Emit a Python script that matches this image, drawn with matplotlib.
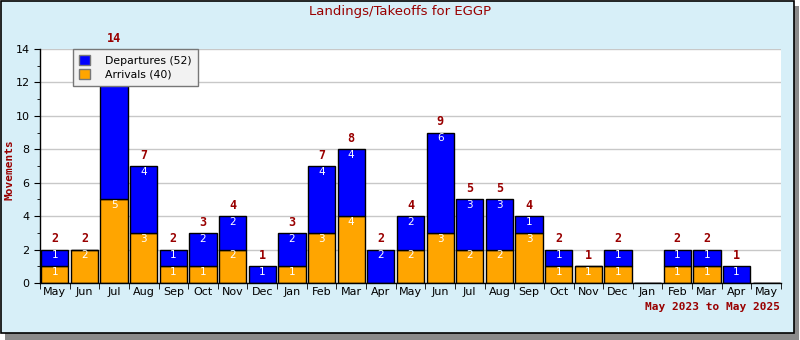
import matplotlib
matplotlib.use("Agg")
import numpy as np
from matplotlib import pyplot as plt
from matplotlib.patches import Patch, Rectangle

months = ["May", "Jun", "Jul", "Aug", "Sep", "Oct", "Nov", "Dec", "Jan", "Feb", "Mar", "Apr",
          "May", "Jun", "Jul", "Aug", "Sep", "Oct", "Nov", "Dec", "Jan", "Feb", "Mar", "Apr", "May"]
arrivals = [1, 2, 5, 3, 1, 1, 2, 0, 1, 3, 4, 0, 2, 3, 2, 2, 3, 1, 1, 1, 0, 1, 1, 0, 0]
departures = [1, 0, 9, 4, 1, 2, 2, 1, 2, 4, 4, 2, 2, 6, 3, 3, 1, 1, 0, 1, 0, 1, 1, 1, 0]

bg = "#d7eff8"
red = "#990000"
blue = "#0000ff"
orange = "#ffa500"

fig = plt.figure(figsize=(8, 3.4), dpi=100)
fig.patch.set_facecolor("white")
# shadow + framed panel
fig.patches.append(Rectangle((5 / 800, 0), 794 / 800, 334 / 340, transform=fig.transFigure,
                             facecolor="#8a8a8a", edgecolor="none", zorder=-3))
fig.patches.append(Rectangle((1 / 800, 7 / 340), 793 / 800, 332 / 340, transform=fig.transFigure,
                             facecolor=bg, edgecolor="black", linewidth=1.2, zorder=-2))

ax = fig.add_axes([40 / 800, 57 / 340, 741 / 800, 234 / 340])
ax.set_facecolor("white")

x = np.arange(len(months))
arr = np.array(arrivals)
dep = np.array(departures)
tot = arr + dep

ax.bar(x, arr, width=0.92, color=orange, edgecolor="black", linewidth=1, zorder=2)
ax.bar(x, dep, bottom=arr, width=0.92, color=blue, edgecolor="black", linewidth=1, zorder=2)

for i in range(len(months)):
    if arr[i] > 0:
        ax.annotate(str(arr[i]), (x[i], arr[i]), xytext=(0, -0.5), textcoords="offset points",
                    ha="center", va="top", color="white", fontsize=7.5, zorder=3)
    if dep[i] > 0:
        ax.annotate(str(dep[i]), (x[i], tot[i]), xytext=(0, -0.5), textcoords="offset points",
                    ha="center", va="top", color="white", fontsize=7.5, zorder=3)
    if tot[i] > 0:
        ax.annotate(str(tot[i]), (x[i], tot[i]), xytext=(0, 3), textcoords="offset points",
                    ha="center", va="bottom", color=red, fontsize=8.5, fontweight="bold",
                    family="DejaVu Sans Mono", annotation_clip=False, zorder=3)

ax.set_xlim(-0.5, len(months) - 0.5)
ax.set_ylim(0, 14)
ax.set_yticks(np.arange(0, 15, 2))
ax.set_yticks(np.arange(0, 15, 1), minor=True)
ax.yaxis.grid(True, color="#c8c8c8", linewidth=1, zorder=0)
ax.set_axisbelow(True)

ax.set_xticks(x)
ax.set_xticklabels(months)
ax.set_xticks(np.arange(-0.5, len(months)), minor=True)
ax.tick_params(axis="x", which="major", length=0, pad=3, labelsize=8)
ax.tick_params(axis="x", which="minor", length=4, direction="out")
ax.tick_params(axis="y", which="major", length=4, labelsize=8)
ax.tick_params(axis="y", which="minor", length=2)

for side in ["top", "right"]:
    ax.spines[side].set_visible(False)
ax.spines["left"].set_linewidth(1)
ax.spines["bottom"].set_linewidth(1)

fig.text(10 / 800, 170 / 340, "Movements", rotation=90, ha="center", va="center",
         color=red, fontsize=8, fontweight="bold", family="DejaVu Sans Mono")
fig.text(0.5, 329 / 340, "Landings/Takeoffs for EGGP", ha="center", va="center",
         color=red, fontsize=9.5)
fig.text(780 / 800, 33 / 340, "May 2023 to May 2025", ha="right", va="center",
         color=red, fontsize=8, fontweight="bold", family="DejaVu Sans Mono")

handles = [Patch(facecolor=blue, edgecolor="#777777", label=f"Departures ({dep.sum()})"),
           Patch(facecolor=orange, edgecolor="#777777", label=f"Arrivals ({arr.sum()})")]
leg = ax.legend(handles=handles, loc="upper left", bbox_to_anchor=(0.0445, 1.0), fontsize=7.8,
                frameon=True, fancybox=False, borderpad=0.55, handlelength=1.0, handleheight=1.0,
                handletextpad=1.4, labelspacing=0.35, borderaxespad=0)
leg.get_frame().set_facecolor("#f2f2f2")
leg.get_frame().set_edgecolor("#777777")
leg.get_frame().set_alpha(1)
leg.set_zorder(5)

fig.savefig("out.png", dpi=100)
